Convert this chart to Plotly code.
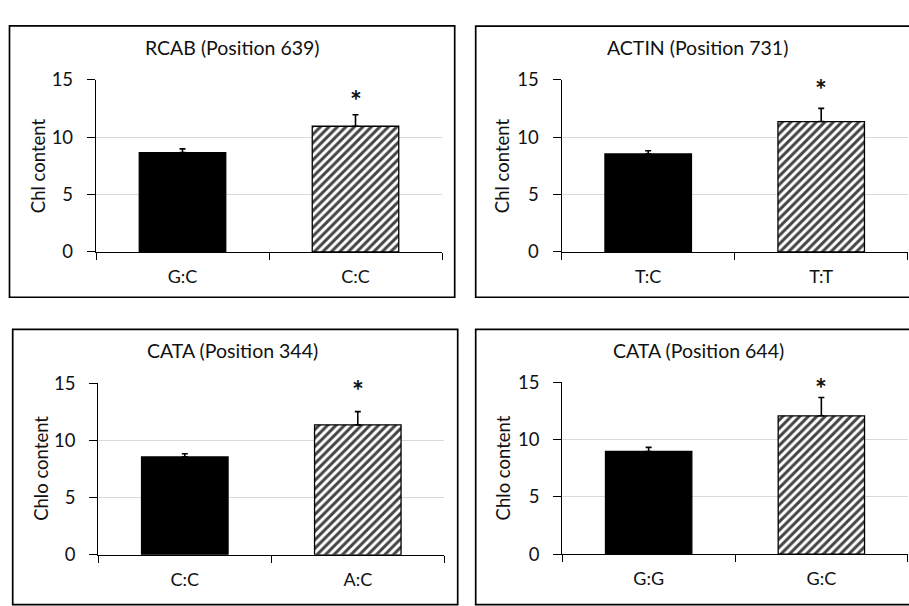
import plotly.graph_objects as go

# Chlorophyll content by genotype at four SNP positions
titles = ["RCAB (Position 639)", "ACTIN (Position 731)",
          "CATA (Position 344)", "CATA (Position 644)"]
genotypes = [["G:C", "C:C"], ["T:C", "T:T"], ["C:C", "A:C"], ["G:G", "G:C"]]
means = [[8.65, 10.95], [8.54, 11.36], [8.55, 11.35], [8.97, 12.08]]
errors = [[0.33, 1.00], [0.28, 1.15], [0.28, 1.15], [0.36, 1.60]]
y_labels = ["Chl content", "Chl content", "Chlo content", "Chlo content"]
star_level = [13.7, 14.6, 14.8, 14.9]
y_ticks = [0, 5, 10, 15]

W, H = 909, 606
FONT = "Lato"
INK = "#111111"


def px_x(v):
    return v / W


def px_y(v):
    return 1 - v / H


# plot areas (left, right, top, bottom) in pixels
areas = [(96, 442, 70.3, 249), (561.7, 907.7, 70.3, 249),
         (98.3, 444.3, 385, 563.3), (562.3, 907.7, 384.3, 562.7)]
# outer frames (left, right, top, bottom) in pixels
frames = [(9.5, 454.7, 14.3, 296), (475.7, 915, 14.7, 296),
          (12.7, 457.7, 329.3, 615), (475.7, 915, 329.3, 615)]
title_pos = [(233, 37), (697.7, 37), (233, 351.7), (698.3, 351)]
ytitle_pos = [(38, 160), (502, 160), (40.7, 473.3), (503.3, 473.3)]

fig = go.Figure()
layout = dict(
    width=W, height=H, margin=dict(l=0, r=0, t=0, b=0),
    paper_bgcolor="white", plot_bgcolor="white", showlegend=False,
    font=dict(family=FONT, color=INK, size=18),
    annotations=[], shapes=[],
)

for i in range(4):
    n = "" if i == 0 else str(i + 1)
    xa, ya = "x" + n, "y" + n
    l, r, t, b = areas[i]

    fig.add_trace(go.Bar(
        x=genotypes[i], y=means[i], width=0.5, xaxis=xa, yaxis=ya,
        marker=dict(
            color=["black", "white"],
            line=dict(color="black", width=1.3),
            pattern=dict(shape=["", "/"], fgcolor="black", bgcolor="white",
                         fgopacity=1, size=6, solidity=0.5),
        ),
        error_y=dict(type="data", array=errors[i], arrayminus=[0, 0],
                     symmetric=False, color="black", thickness=1.6, width=3),
    ))

    layout["xaxis" + n] = dict(
        domain=[px_x(l), px_x(r)], anchor=ya, type="category",
        range=[-0.5, 1.5], showline=True, linecolor="black", linewidth=1.4,
        ticks="outside", tickson="boundaries", ticklen=7, tickwidth=1.4,
        tickcolor="black", showgrid=False, zeroline=False,
        tickfont=dict(size=18, family=FONT, color=INK), ticklabelstandoff=8,
    )
    layout["yaxis" + n] = dict(
        domain=[px_y(b), px_y(t)], anchor=xa, range=[0, 15],
        tickvals=y_ticks, showline=True, linecolor="black", linewidth=1.4,
        ticks="outside", ticklen=8, tickwidth=1.4, tickcolor="black",
        showgrid=True, gridcolor="#d9d9d9", gridwidth=1.2, zeroline=False,
        tickfont=dict(size=18.5, family=FONT, color=INK), ticklabelstandoff=10,
    )

    fl, fr, ft, fb = frames[i]
    layout["shapes"].append(dict(
        type="rect", xref="paper", yref="paper",
        x0=px_x(fl), x1=px_x(fr), y0=px_y(fb), y1=px_y(ft),
        line=dict(color="black", width=1.7), fillcolor="rgba(0,0,0,0)",
    ))

    tx, ty = title_pos[i]
    layout["annotations"].append(dict(
        text=titles[i], xref="paper", yref="paper", x=px_x(tx), y=px_y(ty),
        xanchor="center", yanchor="middle", showarrow=False,
        font=dict(size=19.5, family=FONT, color=INK),
    ))
    yx, yy = ytitle_pos[i]
    layout["annotations"].append(dict(
        text=y_labels[i], xref="paper", yref="paper", x=px_x(yx), y=px_y(yy),
        xanchor="center", yanchor="middle", showarrow=False, textangle=-90,
        font=dict(size=18.5, family=FONT, color=INK),
    ))
    layout["annotations"].append(dict(
        text="<b>*</b>", xref=xa, yref=ya, x=genotypes[i][1], y=star_level[i],
        xanchor="center", yanchor="middle", showarrow=False, yshift=-5,
        font=dict(size=28, family=FONT, color=INK),
    ))

fig.update_layout(**layout)
fig.write_html("out.html")
